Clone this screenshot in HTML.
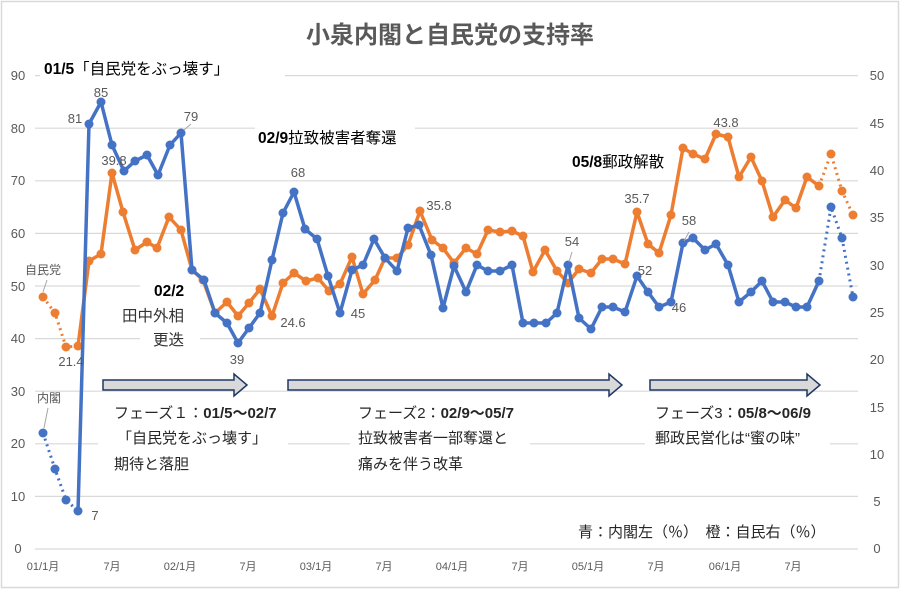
<!DOCTYPE html>
<html><head><meta charset="utf-8"><style>
body{margin:0;background:#fff}
svg text{font-family:"Liberation Sans","Noto Sans CJK JP",sans-serif}
</style></head><body>
<svg width="900" height="589" viewBox="0 0 900 589" xmlns="http://www.w3.org/2000/svg">
<rect x="1.5" y="1.5" width="897" height="586" fill="#fff" stroke="#d9d9d9" stroke-width="1.5"/>
<text x="450" y="43" text-anchor="middle" font-size="24" font-weight="bold" fill="#595959">小泉内閣と自民党の支持率</text>
<g stroke="#d9d9d9" stroke-width="1.2">
<line x1="35" x2="858" y1="75.6" y2="75.6"/><line x1="35" x2="858" y1="128.2" y2="128.2"/>
<line x1="35" x2="858" y1="180.8" y2="180.8"/><line x1="35" x2="858" y1="233.4" y2="233.4"/>
<line x1="35" x2="858" y1="286" y2="286"/><line x1="35" x2="858" y1="338.6" y2="338.6"/>
<line x1="35" x2="858" y1="391.2" y2="391.2"/><line x1="35" x2="858" y1="443.8" y2="443.8"/>
<line x1="35" x2="858" y1="496.4" y2="496.4"/><line x1="35" x2="858" y1="549" y2="549"/>
</g>
<g font-size="13" fill="#595959" text-anchor="middle">
<text x="18" y="80">90</text><text x="18" y="133">80</text><text x="18" y="185">70</text><text x="18" y="238">60</text><text x="18" y="291">50</text><text x="18" y="343">40</text><text x="18" y="396">30</text><text x="18" y="448">20</text><text x="18" y="501">10</text><text x="18" y="553">0</text>
<text x="877" y="80">50</text><text x="877" y="128">45</text><text x="877" y="175">40</text><text x="877" y="222">35</text><text x="877" y="270">30</text><text x="877" y="317">25</text><text x="877" y="364">20</text><text x="877" y="412">15</text><text x="877" y="459">10</text><text x="877" y="506">5</text><text x="877" y="553">0</text>
</g>
<g font-size="11" fill="#595959" text-anchor="middle">
<text x="43" y="570">01/1月</text><text x="112" y="570">7月</text><text x="180" y="570">02/1月</text><text x="248" y="570">7月</text><text x="316" y="570">03/1月</text><text x="384" y="570">7月</text><text x="452" y="570">04/1月</text><text x="520" y="570">7月</text><text x="588" y="570">05/1月</text><text x="656" y="570">7月</text><text x="725" y="570">06/1月</text><text x="793" y="570">7月</text>
</g>
<g fill="#fff">
<rect x="40" y="58" width="245" height="24"/>
<rect x="98" y="400" width="190" height="78"/>
<rect x="350" y="400" width="180" height="78"/>
<rect x="645" y="400" width="185" height="55"/>
<rect x="140" y="282" width="60" height="68"/>
<rect x="255" y="126" width="160" height="22"/>
<rect x="570" y="150" width="115" height="22"/>
<rect x="570" y="520" width="270" height="22"/>
</g>
<g fill="#d9d9d9" stroke="#203864" stroke-width="1.5">
<path d="M103,380 L234,380 L234,374 L247,385 L234,396 L234,390 L103,390 Z"/>
<path d="M288,380 L609,380 L609,374 L622,385 L609,396 L609,390 L288,390 Z"/>
<path d="M650,380 L807,380 L807,374 L820,385 L807,396 L807,390 L650,390 Z"/>
</g>
<g stroke="#ed7d31" fill="none" stroke-width="3.5" stroke-linejoin="round">
<polyline stroke-dasharray="2,4" stroke-width="3" points="43,297 55,313 66,347 78,346"/>
<polyline points="78,346 89,261 101,254 112,173 123,212 135,250 147,242 157,248 169,217 181,230 192,270 203,280 215,313 227,302 238,316 249,303 260,289 272,316 283,283 294,273 306,281 318,278 329,291 340,284 352,257 363,294 375,280 385,258 397,258 408,245 420,211 432,240 443,248 454,263 466,248 477,254 488,230 500,232 512,231 523,236 533,272 545,250 557,271 568,283 579,269 591,273 602,259 613,259 625,264 637,212 648,244 659,253 671,215 683,148 693,154 705,159 716,134 728,137 739,177 751,157 762,181 773,217 785,200 796,208 807,177 819,186"/>
<polyline stroke-dasharray="2,4" stroke-width="3" points="819,186 831,154 842,191 853,215"/>
</g>
<g fill="#ed7d31">
<circle cx="43" cy="297" r="4.5"/><circle cx="55" cy="313" r="4.5"/><circle cx="66" cy="347" r="4.5"/><circle cx="78" cy="346" r="4.5"/><circle cx="89" cy="261" r="4.5"/><circle cx="101" cy="254" r="4.5"/><circle cx="112" cy="173" r="4.5"/><circle cx="123" cy="212" r="4.5"/><circle cx="135" cy="250" r="4.5"/><circle cx="147" cy="242" r="4.5"/><circle cx="157" cy="248" r="4.5"/><circle cx="169" cy="217" r="4.5"/><circle cx="181" cy="230" r="4.5"/><circle cx="192" cy="270" r="4.5"/><circle cx="203" cy="280" r="4.5"/><circle cx="215" cy="313" r="4.5"/><circle cx="227" cy="302" r="4.5"/><circle cx="238" cy="316" r="4.5"/><circle cx="249" cy="303" r="4.5"/><circle cx="260" cy="289" r="4.5"/><circle cx="272" cy="316" r="4.5"/><circle cx="283" cy="283" r="4.5"/><circle cx="294" cy="273" r="4.5"/><circle cx="306" cy="281" r="4.5"/><circle cx="318" cy="278" r="4.5"/><circle cx="329" cy="291" r="4.5"/><circle cx="340" cy="284" r="4.5"/><circle cx="352" cy="257" r="4.5"/><circle cx="363" cy="294" r="4.5"/><circle cx="375" cy="280" r="4.5"/><circle cx="385" cy="258" r="4.5"/><circle cx="397" cy="258" r="4.5"/><circle cx="408" cy="245" r="4.5"/><circle cx="420" cy="211" r="4.5"/><circle cx="432" cy="240" r="4.5"/><circle cx="443" cy="248" r="4.5"/><circle cx="454" cy="263" r="4.5"/><circle cx="466" cy="248" r="4.5"/><circle cx="477" cy="254" r="4.5"/><circle cx="488" cy="230" r="4.5"/><circle cx="500" cy="232" r="4.5"/><circle cx="512" cy="231" r="4.5"/><circle cx="523" cy="236" r="4.5"/><circle cx="533" cy="272" r="4.5"/><circle cx="545" cy="250" r="4.5"/><circle cx="557" cy="271" r="4.5"/><circle cx="568" cy="283" r="4.5"/><circle cx="579" cy="269" r="4.5"/><circle cx="591" cy="273" r="4.5"/><circle cx="602" cy="259" r="4.5"/><circle cx="613" cy="259" r="4.5"/><circle cx="625" cy="264" r="4.5"/><circle cx="637" cy="212" r="4.5"/><circle cx="648" cy="244" r="4.5"/><circle cx="659" cy="253" r="4.5"/><circle cx="671" cy="215" r="4.5"/><circle cx="683" cy="148" r="4.5"/><circle cx="693" cy="154" r="4.5"/><circle cx="705" cy="159" r="4.5"/><circle cx="716" cy="134" r="4.5"/><circle cx="728" cy="137" r="4.5"/><circle cx="739" cy="177" r="4.5"/><circle cx="751" cy="157" r="4.5"/><circle cx="762" cy="181" r="4.5"/><circle cx="773" cy="217" r="4.5"/><circle cx="785" cy="200" r="4.5"/><circle cx="796" cy="208" r="4.5"/><circle cx="807" cy="177" r="4.5"/><circle cx="819" cy="186" r="4.5"/><circle cx="831" cy="154" r="4.5"/><circle cx="842" cy="191" r="4.5"/><circle cx="853" cy="215" r="4.5"/>
</g>
<g stroke="#4472c4" fill="none" stroke-width="3.5" stroke-linejoin="round">
<polyline stroke-dasharray="2,4" stroke-width="3" points="43,433 55,469 66,500 78,511"/>
<polyline points="78,511 89,124 101,102 112,145 124,171 135,161 147,155 158,175 170,145 181,133 192,270 204,280 215,313 227,323 238,343 249,328 260,313 272,260 283,213 294,192 305,229 317,239 328,276 340,313 352,270 363,265 374,239 385,258 397,271 408,228 419,225 431,255 443,308 454,266 466,292 477,265 488,271 500,271 512,265 523,323 534,323 546,323 557,313 568,265 579,318 591,329 602,307 613,307 625,312 637,276 648,292 659,307 671,302 683,243 693,238 705,250 716,244 728,265 739,302 751,292 762,281 773,302 785,302 796,307 807,307 819,281"/>
<polyline stroke-dasharray="2,4" stroke-width="3" points="819,281 831,207 842,238 853,297"/>
</g>
<g fill="#4472c4">
<circle cx="43" cy="433" r="4.5"/><circle cx="55" cy="469" r="4.5"/><circle cx="66" cy="500" r="4.5"/><circle cx="78" cy="511" r="4.5"/><circle cx="89" cy="124" r="4.5"/><circle cx="101" cy="102" r="4.5"/><circle cx="112" cy="145" r="4.5"/><circle cx="124" cy="171" r="4.5"/><circle cx="135" cy="161" r="4.5"/><circle cx="147" cy="155" r="4.5"/><circle cx="158" cy="175" r="4.5"/><circle cx="170" cy="145" r="4.5"/><circle cx="181" cy="133" r="4.5"/><circle cx="192" cy="270" r="4.5"/><circle cx="204" cy="280" r="4.5"/><circle cx="215" cy="313" r="4.5"/><circle cx="227" cy="323" r="4.5"/><circle cx="238" cy="343" r="4.5"/><circle cx="249" cy="328" r="4.5"/><circle cx="260" cy="313" r="4.5"/><circle cx="272" cy="260" r="4.5"/><circle cx="283" cy="213" r="4.5"/><circle cx="294" cy="192" r="4.5"/><circle cx="305" cy="229" r="4.5"/><circle cx="317" cy="239" r="4.5"/><circle cx="328" cy="276" r="4.5"/><circle cx="340" cy="313" r="4.5"/><circle cx="352" cy="270" r="4.5"/><circle cx="363" cy="265" r="4.5"/><circle cx="374" cy="239" r="4.5"/><circle cx="385" cy="258" r="4.5"/><circle cx="397" cy="271" r="4.5"/><circle cx="408" cy="228" r="4.5"/><circle cx="419" cy="225" r="4.5"/><circle cx="431" cy="255" r="4.5"/><circle cx="443" cy="308" r="4.5"/><circle cx="454" cy="266" r="4.5"/><circle cx="466" cy="292" r="4.5"/><circle cx="477" cy="265" r="4.5"/><circle cx="488" cy="271" r="4.5"/><circle cx="500" cy="271" r="4.5"/><circle cx="512" cy="265" r="4.5"/><circle cx="523" cy="323" r="4.5"/><circle cx="534" cy="323" r="4.5"/><circle cx="546" cy="323" r="4.5"/><circle cx="557" cy="313" r="4.5"/><circle cx="568" cy="265" r="4.5"/><circle cx="579" cy="318" r="4.5"/><circle cx="591" cy="329" r="4.5"/><circle cx="602" cy="307" r="4.5"/><circle cx="613" cy="307" r="4.5"/><circle cx="625" cy="312" r="4.5"/><circle cx="637" cy="276" r="4.5"/><circle cx="648" cy="292" r="4.5"/><circle cx="659" cy="307" r="4.5"/><circle cx="671" cy="302" r="4.5"/><circle cx="683" cy="243" r="4.5"/><circle cx="693" cy="238" r="4.5"/><circle cx="705" cy="250" r="4.5"/><circle cx="716" cy="244" r="4.5"/><circle cx="728" cy="265" r="4.5"/><circle cx="739" cy="302" r="4.5"/><circle cx="751" cy="292" r="4.5"/><circle cx="762" cy="281" r="4.5"/><circle cx="773" cy="302" r="4.5"/><circle cx="785" cy="302" r="4.5"/><circle cx="796" cy="307" r="4.5"/><circle cx="807" cy="307" r="4.5"/><circle cx="819" cy="281" r="4.5"/><circle cx="831" cy="207" r="4.5"/><circle cx="842" cy="238" r="4.5"/><circle cx="853" cy="297" r="4.5"/>
</g>
<g stroke="#a6a6a6" stroke-width="1">
<line x1="43" y1="292" x2="47" y2="280"/><line x1="44" y1="428" x2="48" y2="408"/>
<line x1="184" y1="130" x2="191" y2="124"/><line x1="569" y1="262" x2="572" y2="252"/><line x1="684" y1="241" x2="689" y2="232"/>
</g>
<g font-size="13" fill="#595959" text-anchor="middle">
<text x="75" y="123">81</text><text x="101" y="97">85</text><text x="191" y="121">79</text><text x="114" y="165">39.8</text>
<text x="43" y="274" font-size="12">自民党</text><text x="49" y="402" font-size="12">内閣</text>
<text x="71" y="366">21.4</text><text x="95" y="520">7</text><text x="237" y="364">39</text><text x="293" y="327">24.6</text>
<text x="298" y="177">68</text><text x="358" y="318">45</text><text x="439" y="210">35.8</text>
<text x="572" y="246">54</text><text x="645" y="275">52</text><text x="679" y="312">46</text><text x="689" y="225">58</text>
<text x="726" y="127">43.8</text><text x="637" y="203">35.7</text>
</g>
<g font-size="15.5" fill="#000">
<text x="44" y="74"><tspan font-weight="bold">01/5</tspan>「自民党をぶっ壊す」</text>
<text x="258" y="143"><tspan font-weight="bold">02/9</tspan>拉致被害者奪還</text>
<text x="572" y="167"><tspan font-weight="bold">05/8</tspan>郵政解散</text>
<text x="154" y="296" font-weight="bold">02/2</text>
<text x="122" y="321" fill="#333">田中外相</text>
<text x="153" y="345" fill="#333">更迭</text>
</g>
<g font-size="15" fill="#262626">
<text x="114" y="418">フェーズ１：<tspan font-weight="bold">01/5～02/7</tspan></text>
<text x="117" y="443">「自民党をぶっ壊す」</text>
<text x="114" y="469">期待と落胆</text>
<text x="358" y="418">フェーズ2：<tspan font-weight="bold">02/9～05/7</tspan></text>
<text x="358" y="443">拉致被害者一部奪還と</text>
<text x="358" y="469">痛みを伴う改革</text>
<text x="655" y="418">フェーズ3：<tspan font-weight="bold">05/8～06/9</tspan></text>
<text x="655" y="443">郵政民営化は“蜜の味”</text>
<text x="578" y="537">青：内閣左（％）　橙：自民右（％）</text>
</g>
</svg>
</body></html>
